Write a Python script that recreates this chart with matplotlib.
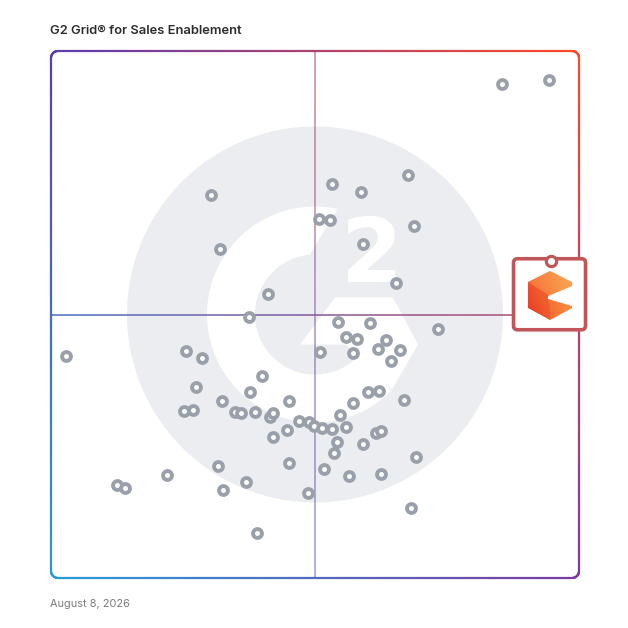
import numpy as np
import matplotlib
matplotlib.use("Agg")
import matplotlib.pyplot as plt
from matplotlib.transforms import Affine2D
from matplotlib.collections import LineCollection
from matplotlib.patches import Circle, Polygon, FancyBboxPatch
from matplotlib.colors import LinearSegmentedColormap, to_rgb

# ---------------- data (satisfaction = x, market presence = y, 0-100) ----------------
satisfaction = [85.4, 94.3, 30.3, 53.2, 58.7, 67.6, 50.8, 52.8, 68.8, 32.0,
                59.1, 65.3, 41.1, 37.5, 2.8, 73.3, 54.4, 60.4, 55.9, 58.0,
                63.4, 50.9, 57.2, 61.9, 66.1, 64.4, 25.6, 28.6, 40.0, 27.5,
                37.7, 32.4, 45.1, 25.2, 26.9, 34.8, 36.0, 38.6, 41.5, 42.0,
                47.0, 48.9, 44.7, 42.0, 60.0, 62.1, 57.2, 66.9, 54.7, 49.8,
                51.3, 53.2, 55.9, 61.6, 62.5, 54.2, 59.1, 53.6, 69.1, 31.6,
                45.1, 51.7, 56.4, 62.5, 22.0, 12.5, 14.0, 36.9, 32.6, 48.7,
                68.2, 39.0]
market_presence = [93.7, 94.5, 72.7, 74.8, 73.2, 76.5, 68.1, 67.9, 66.8, 62.4,
                   63.4, 56.0, 53.9, 49.5, 42.1, 47.2, 48.6, 48.4, 45.7, 45.4,
                   45.2, 42.9, 42.7, 43.5, 43.3, 41.2, 43.1, 41.7, 38.3, 36.2,
                   35.3, 33.6, 33.6, 31.7, 31.9, 31.5, 31.3, 31.5, 30.6, 31.3,
                   29.8, 29.6, 28.1, 26.8, 35.3, 35.5, 33.2, 33.8, 30.9, 28.8,
                   28.5, 28.3, 28.7, 27.5, 27.9, 25.8, 25.4, 23.7, 23.0, 21.3,
                   21.8, 20.7, 19.4, 19.7, 19.5, 17.6, 17.1, 18.2, 16.7, 16.1,
                   13.3, 8.5]
highlight_satisfaction = [94.7]
highlight_presence = [60.2]
title_text = "G2 Grid\u00ae for Sales Enablement"
date_text = "August 8, 2026"

# ---------------- figure ----------------
W = H = 628
fig = plt.figure(figsize=(W / 100, H / 100), dpi=100)
fig.patch.set_facecolor("white")
L, R, T, B = 51, 579, 51, 578
ax = fig.add_axes([L / W, 1 - B / H, (R - L) / W, (B - T) / H])
ax.set_xlim(0, 100)
ax.set_ylim(0, 100)
ax.set_axis_off()

PIX = Affine2D().scale(1, -1).translate(0, H)   # image pixel coords (y down) -> display


def anchor(xd, yd):
    dx, dy = ax.transData.transform((xd, yd))
    return Affine2D().scale(1, -1).translate(dx, dy)


TL = np.array(to_rgb("#5b3cb2"))
TR = np.array(to_rgb("#ff4a2a"))
BL = np.array(to_rgb("#2a9bd8"))
BR = np.array(to_rgb("#7c3aa2"))


def grad(u, v):
    return (1 - u) * (1 - v) * TL + u * (1 - v) * TR + (1 - u) * v * BL + u * v * BR


# ---------------- G2 watermark ----------------
Tc = anchor(50, 50)
wm = "#ebedf0"
ax.add_patch(Circle((0, 0), 188, transform=Tc, fc=wm, ec="none", zorder=0, clip_on=False))
a_out = np.radians(np.linspace(78, 315, 120))
a_in = np.radians(np.linspace(320, 95, 120))
ring = np.vstack([np.c_[108 * np.cos(a_out), -108 * np.sin(a_out)],
                  np.c_[60 * np.cos(a_in), -60 * np.sin(a_in)]])
ax.add_patch(Polygon(ring, closed=True, transform=Tc, fc="white", ec="none",
                     zorder=0.5, clip_on=False))
chev = [(20, -17), (78, -17), (103, 30), (77, 75), (44, 44), (31, 30), (-15, 30)]
ax.add_patch(Polygon(chev, closed=True, transform=Tc, fc="white", ec="none",
                     zorder=0.5, clip_on=False))
ax.text(57, -32, "2", transform=Tc, color="white", fontsize=64, fontweight="bold",
        family="DejaVu Sans", ha="center", va="baseline", zorder=0.6, clip_on=False)

# ---------------- quadrant lines ----------------
n = 200
t = np.linspace(0, 100, n + 1)
vsegs = [[(50, t[i]), (50, t[i + 1])] for i in range(n)]
vcols = [(*grad(0.5, 1 - (t[i] + t[i + 1]) / 200), 0.6) for i in range(n)]
hsegs = [[(t[i], 50), (t[i + 1], 50)] for i in range(n)]
hcols = [(*grad((t[i] + t[i + 1]) / 200, 0.5), 0.9) for i in range(n)]
ax.add_collection(LineCollection(vsegs, colors=vcols, linewidths=1.2, zorder=1))
ax.add_collection(LineCollection(hsegs, colors=hcols, linewidths=1.2, zorder=1))

# ---------------- product points ----------------
ax.scatter(satisfaction, market_presence, s=6.4 ** 2, marker="o", facecolors="white",
           edgecolors="#9aa0aa", linewidths=2.8, zorder=3)

# ---------------- gradient frame ----------------
r = 7
pts = []
def arc(cx, cy, a0, a1):
    a = np.radians(np.linspace(a0, a1, 20))
    return np.c_[cx + r * np.cos(a), cy + r * np.sin(a)]
pts.append(np.c_[np.linspace(L + r, R - r, 150), np.full(150, T)])
pts.append(arc(R - r, T + r, -90, 0))
pts.append(np.c_[np.full(150, R), np.linspace(T + r, B - r, 150)])
pts.append(arc(R - r, B - r, 0, 90))
pts.append(np.c_[np.linspace(R - r, L + r, 150), np.full(150, B)])
pts.append(arc(L + r, B - r, 90, 180))
pts.append(np.c_[np.full(150, L), np.linspace(B - r, T + r, 150)])
pts.append(arc(L + r, T + r, 180, 270))
P = np.vstack(pts)
segs = np.stack([P[:-1], P[1:]], axis=1)
mid = (P[:-1] + P[1:]) / 2
cols = [grad((mx - L) / (R - L), (my - T) / (B - T)) for mx, my in mid]
ax.add_collection(LineCollection(segs, colors=cols, linewidths=1.6, transform=PIX,
                                 zorder=4, clip_on=False, capstyle="round"))

# ---------------- highlighted product box + logo ----------------
Ta = anchor(highlight_satisfaction[0], highlight_presence[0])
red = "#c0565a"
box = FancyBboxPatch((-37.5, -2), 72, 71, boxstyle="round,pad=0,rounding_size=4",
                     transform=Ta, fc="white", ec=red, lw=2.6, zorder=5, clip_on=False)
ax.add_patch(box)

cverts = [(-1, 10.5), (20.5, 21.2), (20.5, 25), (-3.5, 35.5), (-3.5, 38.5),
          (20.5, 45.5), (20.5, 47.5), (-1, 59), (-23, 47.5), (-23, 21.5)]
cpatch = Polygon(cverts, closed=True, transform=Ta)
gx = np.linspace(-24, 22, 60)
gy = np.linspace(9, 60, 60)
GX, GY = np.meshgrid(gx, gy)
Z = GX - 0.45 * GY
cmap = LinearSegmentedColormap.from_list("c", ["#e8362a", "#f25f2d", "#f7853b", "#fba24e"])
mesh = ax.pcolormesh(GX, GY, Z[:-1, :-1], transform=Ta, cmap=cmap, shading="flat",
                     zorder=6)
mesh.set_clip_on(True)
mesh.set_clip_box(None)
mesh.set_clip_path(cpatch)
# facet shading
facets = [
    ([(-1, 10.5), (20.5, 21.2), (20.5, 25), (-1, 35), (-23, 21.5)], "#fdb565", 0.3),
    ([(-23, 21.5), (-1, 35), (-1, 59), (-23, 47.5)], "#e23a25", 0.2),
    ([(-3.5, 38.5), (20.5, 45.5), (20.5, 47.5), (-1, 59), (-1, 46)], "#f88a40", 0.25),
]
for verts, fc, al in facets:
    fp = Polygon(verts, closed=True, transform=Ta, fc=fc, ec="none", alpha=al, zorder=6.5)
    ax.add_patch(fp)
    fp.set_clip_on(True)
    fp.set_clip_box(None)
    fp.set_clip_path(cpatch)

ax.plot(highlight_satisfaction, highlight_presence, marker="o", ms=7.4, mew=2.3,
        mfc="white", mec=red, ls="none", zorder=7, clip_on=False)

ax.set_xlim(0, 100)
ax.set_ylim(0, 100)

# ---------------- texts ----------------
fig.text(50 / W, 1 - 34 / H, title_text, family=["Inter", "DejaVu Sans"], fontsize=9.3,
         fontweight="semibold", color="#2d2d2d", ha="left", va="baseline")
fig.text(50 / W, 1 - 607 / H, date_text, family=["Inter", "DejaVu Sans"], fontsize=7.9,
         color="#7a7a7a", ha="left", va="baseline")

fig.savefig("out.png", dpi=100, facecolor="white")
